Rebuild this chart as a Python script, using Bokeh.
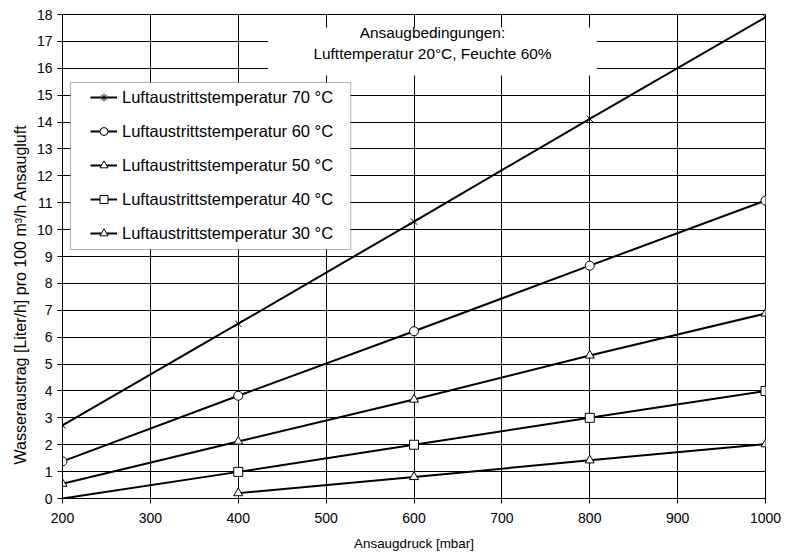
from bokeh.plotting import figure
from bokeh.models import (Legend, LegendItem, BoxAnnotation, Label, Title,
                          FixedTicker, Range1d)
from bokeh.embed import file_html
from bokeh.resources import INLINE

# ---- data ----
pressure = [200, 400, 600, 800, 1000]
temp70 = [2.72, 6.5, 10.3, 14.12, 17.9]
temp60 = [1.38, 3.82, 6.22, 8.66, 11.08]
temp50 = [0.55, 2.12, 3.68, 5.32, 6.88]
temp40 = [0.0, 0.99, 2.0, 3.0, 4.0]
pressure30 = [400, 600, 800, 1000]
temp30 = [0.2, 0.8, 1.42, 2.02]

labels = ["Luftaustrittstemperatur 70 °C", "Luftaustrittstemperatur 60 °C",
          "Luftaustrittstemperatur 50 °C", "Luftaustrittstemperatur 40 °C",
          "Luftaustrittstemperatur 30 °C"]
x_ticks = [200, 300, 400, 500, 600, 700, 800, 900, 1000]
y_ticks = list(range(0, 19))
x_title = "Ansaugdruck [mbar]"
y_title = "Wasseraustrag [Liter/h] pro 100 m³/h Ansaugluft"

FONT = "Liberation Sans"
NAN = float("nan")

p = figure(width=783, height=554, output_backend="svg", toolbar_location=None,
           x_range=Range1d(200, 1000), y_range=Range1d(0, 18),
           min_border_left=62, min_border_right=18, min_border_top=14, min_border_bottom=56)
p.background_fill_color = "white"
p.border_fill_color = "white"
p.outline_line_color = "black"
p.outline_line_width = 1

p.xgrid.ticker = FixedTicker(ticks=x_ticks)
p.ygrid.ticker = FixedTicker(ticks=y_ticks)
p.xgrid.grid_line_color = "black"
p.ygrid.grid_line_color = "black"
p.xgrid.grid_line_width = 1
p.ygrid.grid_line_width = 1

for ax, ticks in ((p.xaxis[0], x_ticks), (p.yaxis[0], y_ticks)):
    ax.ticker = FixedTicker(ticks=ticks)
    ax.axis_line_color = "black"
    ax.major_tick_line_color = "black"
    ax.major_tick_in = 0
    ax.major_tick_out = 5
    ax.minor_tick_line_color = None
    ax.major_label_text_font = FONT
    ax.major_label_text_font_size = "14px"
    ax.major_label_text_color = "black"
    ax.axis_label_text_font = FONT
    ax.axis_label_text_font_style = "normal"
    ax.axis_label_text_color = "black"

p.xaxis.major_label_standoff = 9
p.xaxis.axis_label = x_title
p.xaxis.axis_label_text_font_size = "13.4px"
p.xaxis.axis_label_standoff = 10

# y title placed like the original (starting somewhat above the frame bottom)
p.add_layout(Title(text=y_title, align="left", offset=34, text_font=FONT,
                   text_font_size="16px", text_font_style="normal",
                   text_color="black", standoff=9), "left")

# ---- series ----
series = [
    (pressure, temp70, "x", "asterisk", 0),
    (pressure, temp60, "circle", "circle", 0),
    (pressure, temp50, "triangle", "triangle", 0),
    (pressure, temp40, "square", "square", 1),
    (pressure30, temp30, "triangle", "triangle", 0),
]

items = []
for (xs, ys, mk, legmk, start), lab in zip(series, labels):
    p.line(xs, ys, line_color="black", line_width=2)
    p.scatter(xs[start:], ys[start:], marker=mk, size=9, line_color="black",
              fill_color="white", line_width=1)
    # legend-only glyphs (not shown in the plot area)
    lr = p.line(x=[NAN], y=[NAN], line_color="black", line_width=2)
    sr = p.scatter(x=[NAN], y=[NAN], marker=legmk, size=9, line_color="black",
                   fill_color="white", line_width=1)
    items.append(LegendItem(label=lab, renderers=[lr, sr]))

# ---- legend box ----
legend_box = BoxAnnotation(left=209, right=528, top=15.47, bottom=9.26,
                           fill_color="white", fill_alpha=1,
                           line_color="black", line_width=1)
p.add_layout(legend_box)

legend = Legend(items=items, location=(23, 250))
legend.border_line_alpha = 0
legend.background_fill_alpha = 0
legend.label_text_font = FONT
legend.label_text_font_size = "16.5px"
legend.label_text_color = "black"
legend.padding = 5
legend.spacing = 14
legend.glyph_width = 27
legend.glyph_height = 20
legend.label_height = 20
legend.label_standoff = 5
legend.margin = 0
p.add_layout(legend, "center")

# ---- conditions note ----
note_box = BoxAnnotation(left=434, right=808, top=17.52, bottom=15.73,
                         fill_color="white", fill_alpha=1, line_alpha=0)
p.add_layout(note_box)
p.add_layout(Label(x=621, y=17.33, text="Ansaugbedingungen:", text_align="center",
                   text_baseline="middle", text_font=FONT, text_font_size="15.4px",
                   text_color="black"))
p.add_layout(Label(x=621, y=16.55, text="Lufttemperatur 20°C, Feuchte 60%",
                   text_align="center", text_baseline="middle", text_font=FONT,
                   text_font_size="15.4px", text_color="black"))

open("out.html", "w").write(file_html(p, INLINE))
